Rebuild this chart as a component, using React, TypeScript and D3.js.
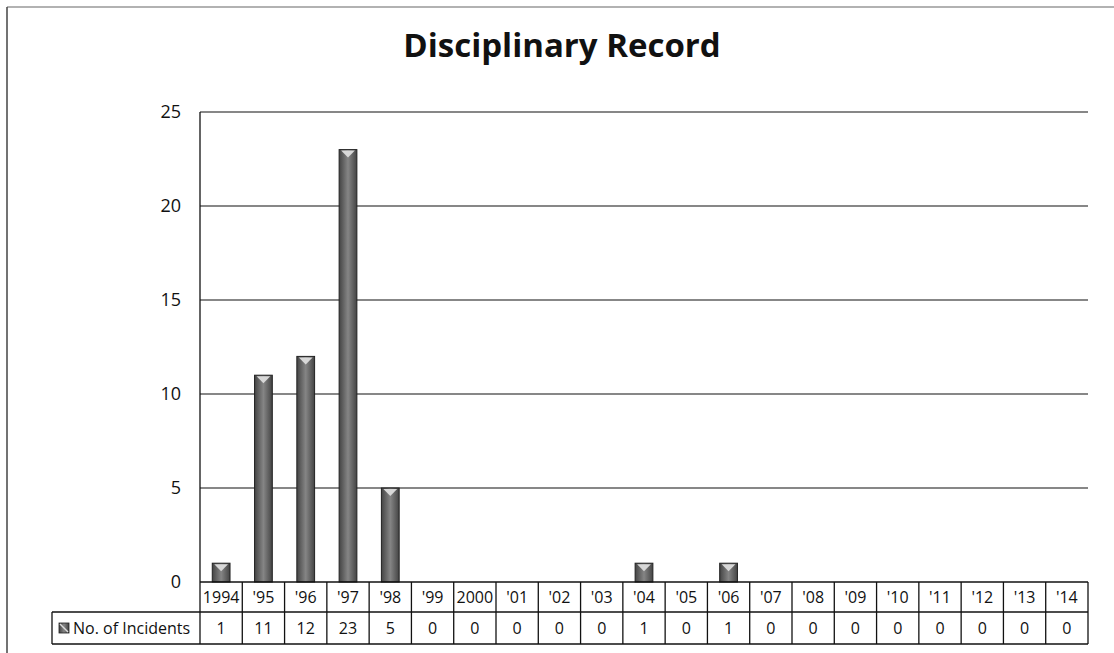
import React from "react";
import * as d3 from "d3";

const categories = ["1994", "'95", "'96", "'97", "'98", "'99", "2000", "'01", "'02", "'03", "'04", "'05", "'06", "'07", "'08", "'09", "'10", "'11", "'12", "'13", "'14"];
const incidents = [1, 11, 12, 23, 5, 0, 0, 0, 0, 0, 1, 0, 1, 0, 0, 0, 0, 0, 0, 0, 0];
const yTicks = [0, 5, 10, 15, 20, 25];
const seriesName = "No. of Incidents";
const title = "Disciplinary Record";

const W = 1114;
const H = 653;
const plot = { left: 200, right: 1088, top: 112, bottom: 582 };
const tableLeft = 52;
const row1Bottom = 612;
const row2Bottom = 644;
const font = "'Open Sans', 'DejaVu Sans', sans-serif";

export default function App() {
  const x = d3.scaleBand<string>().domain(categories).range([plot.left, plot.right]).paddingInner(0.58).paddingOuter(0.29);
  const xCell = d3.scaleBand<string>().domain(categories).range([plot.left, plot.right]);
  const y = d3.scaleLinear().domain([0, 25]).range([plot.bottom, plot.top]);
  const bw = x.bandwidth();

  return (
    <svg width={W} height={H} style={{ position: "absolute", left: 0, top: 0, background: "#fff" }}>
      <defs>
        <linearGradient id="barGrad" x1="0" x2="1" y1="0" y2="0">
          <stop offset="0" stopColor="#444" />
          <stop offset="0.5" stopColor="#858585" />
          <stop offset="1" stopColor="#444" />
        </linearGradient>
      </defs>
      <rect x={0} y={0} width={W} height={H} fill="#fff" />
      {/* outer border */}
      <line x1={7} y1={7} x2={W} y2={7} stroke="#666" strokeWidth={1.2} />
      <line x1={7} y1={7} x2={7} y2={H} stroke="#444" strokeWidth={1.5} />

      <text x={562} y={57} textAnchor="middle" fontFamily={font} fontWeight={700} fontSize={33} fill="#111">
        {title}
      </text>

      {/* gridlines */}
      {yTicks.filter((t) => t > 0).map((t) => (
        <line key={t} x1={plot.left} x2={plot.right} y1={y(t)} y2={y(t)} stroke="#111" strokeWidth={1.1} />
      ))}
      <line x1={plot.left} x2={plot.left} y1={plot.top} y2={plot.bottom} stroke="#111" strokeWidth={1.3} />

      {/* y labels */}
      {yTicks.map((t) => (
        <text key={t} x={181} y={y(t) + 6} textAnchor="end" fontFamily={font} fontSize={18} fill="#111">
          {t}
        </text>
      ))}

      {/* bars */}
      {categories.map((c, i) => {
        const v = incidents[i];
        if (v <= 0) return null;
        const bx = x(c)!;
        const by = y(v);
        const tri = Math.min(8, plot.bottom - by);
        return (
          <g key={c}>
            <rect x={bx} y={by} width={bw} height={plot.bottom - by} fill="url(#barGrad)" stroke="#222" strokeWidth={1} />
            <polygon points={`${bx + 2},${by + 1} ${bx + bw - 2},${by + 1} ${bx + bw / 2},${by + tri}`} fill="#d8d8d8" />
          </g>
        );
      })}

      {/* data table */}
      <line x1={plot.left} x2={plot.right} y1={plot.bottom} y2={plot.bottom} stroke="#111" strokeWidth={1.3} />
      <line x1={tableLeft} x2={plot.right} y1={row1Bottom} y2={row1Bottom} stroke="#111" strokeWidth={1.3} />
      <line x1={tableLeft} x2={plot.right} y1={row2Bottom} y2={row2Bottom} stroke="#111" strokeWidth={1.3} />
      <line x1={tableLeft} x2={tableLeft} y1={row1Bottom} y2={row2Bottom} stroke="#111" strokeWidth={1.3} />
      {categories.map((c) => (
        <line key={"v" + c} x1={xCell(c)!} x2={xCell(c)!} y1={plot.bottom} y2={row2Bottom} stroke="#111" strokeWidth={1.3} />
      ))}
      <line x1={plot.right} x2={plot.right} y1={plot.bottom} y2={row2Bottom} stroke="#111" strokeWidth={1.3} />
      {categories.map((c, i) => {
        const cx = xCell(c)! + xCell.bandwidth() / 2;
        return (
          <g key={"t" + c}>
            <text x={cx} y={(plot.bottom + row1Bottom) / 2 + 6} textAnchor="middle" fontFamily={font} fontSize={16} fill="#111">
              {c}
            </text>
            <text x={cx} y={(row1Bottom + row2Bottom) / 2 + 6} textAnchor="middle" fontFamily={font} fontSize={16} fill="#111">
              {incidents[i]}
            </text>
          </g>
        );
      })}
      {/* legend key */}
      <rect x={59} y={623} width={10} height={10} fill="url(#barGrad)" stroke="#222" strokeWidth={0.8} />
      <line x1={60} y1={624} x2={68} y2={632} stroke="#ddd" strokeWidth={1.5} />
      <text x={73} y={(row1Bottom + row2Bottom) / 2 + 6} fontFamily={font} fontSize={16} fill="#111">
        {seriesName}
      </text>
    </svg>
  );
}
